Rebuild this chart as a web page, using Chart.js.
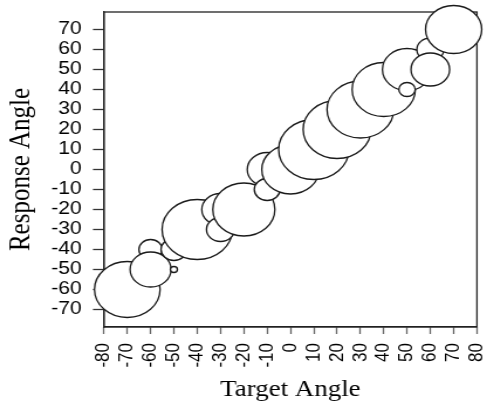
<!DOCTYPE html>
<html><head><meta charset="utf-8">
<script src="https://cdn.jsdelivr.net/npm/chart.js@4/dist/chart.umd.min.js"></script>
<style>
html,body{margin:0;padding:0;background:#fff;overflow:hidden}
#wrap{width:487px;height:406px;overflow:hidden}
canvas{transform:scaleX(1.1707);transform-origin:0 0;display:block}
</style></head><body>
<div id="wrap"><canvas id="c" width="416" height="406"></canvas></div>
<script>
// Data (drawing order: ascending target angle)
const targetAngle   = [-70, -60, -60, -50, -50, -40, -30, -30, -20, -10, -10,   0, 10, 20, 30, 40, 50, 50, 60, 60, 70];
const responseAngle = [-60, -40, -50, -40, -50, -30, -20, -30, -20,   0, -10,   0, 10, 20, 30, 40, 50, 40, 60, 50, 70];
// circle radius, in response-angle units
const circleSize    = [ 14,   5, 8.75, 5.5, 1.5,  15,   8,   6, 13.25, 8.5, 5.5, 12.25, 15, 14.5, 14.25, 13.5, 10.5, 3.5, 5.75, 8.25, 12];
const xTickValues = [-80, -70, -60, -50, -40, -30, -20, -10, 0, 10, 20, 30, 40, 50, 60, 70, 80];
const yTickValues = [-70, -60, -50, -40, -30, -20, -10, 0, 10, 20, 30, 40, 50, 60, 70];

const points = targetAngle.map((x, i) => ({x: x, y: responseAngle[i]}));

const framePlugin = {
  id: 'frame',
  beforeDatasetsDraw(chart) {
    const a = chart.chartArea, ctx = chart.ctx;
    ctx.save();
    ctx.strokeStyle = '#222';
    ctx.lineWidth = 1.3;
    ctx.strokeRect(a.left, a.top, a.right - a.left, a.bottom - a.top);
    ctx.restore();
  }
};

function radiusFor(ctx) {
  const s = ctx.chart.scales.y;
  const v = circleSize[ctx.dataIndex];
  return Math.abs(s.getPixelForValue(v) - s.getPixelForValue(0));
}

new Chart(document.getElementById('c'), {
  type: 'scatter',
  data: {
    datasets: [{
      data: points,
      backgroundColor: '#ffffff',
      borderColor: '#1a1a1a',
      borderWidth: 1.3,
      pointRadius: radiusFor,
      pointHoverRadius: radiusFor,
      clip: false
    }]
  },
  options: {
    responsive: false,
    animation: false,
    devicePixelRatio: 1,
    events: [],
    layout: { padding: { left: 0, right: 8.6, top: 12, bottom: 0 } },
    plugins: { legend: { display: false }, tooltip: { enabled: false } },
    scales: {
      x: {
        type: 'linear', min: -80, max: 80, z: 1,
        afterBuildTicks: s => { s.ticks = xTickValues.map(v => ({value: v})); },
        afterFit: s => { s.height = 79; s.paddingLeft = 0; s.paddingRight = 0; },
        ticks: {
          minRotation: 90, maxRotation: 90, autoSkip: false, padding: 9,
          color: '#000',
          font: { family: '"Liberation Sans", Arial, sans-serif', size: 17 }
        },
        grid: { display: true, drawOnChartArea: false, drawTicks: true, tickLength: 7, tickColor: '#666', tickWidth: 1.3 },
        border: { display: true, color: '#222', width: 1.3 },
        title: {
          display: true, text: 'Target Angle', color: '#000',
          font: { family: '"Liberation Serif", "Times New Roman", serif', size: 23 },
          padding: { top: 0, bottom: 2 }
        }
      },
      y: {
        type: 'linear', min: -78.75, max: 78.75, z: 1,
        afterBuildTicks: s => { s.ticks = yTickValues.map(v => ({value: v})); },
        afterFit: s => { s.width = 88.8; s.paddingTop = 0; s.paddingBottom = 0; },
        ticks: {
          padding: 9.6, color: '#000', autoSkip: false,
          font: { family: '"Liberation Sans", Arial, sans-serif', size: 18 }
        },
        grid: { display: true, drawOnChartArea: false, drawTicks: true, tickLength: 9.4, tickColor: '#333', tickWidth: 1.3 },
        border: { display: true, color: '#222', width: 1.3 },
        title: {
          display: true, text: 'Response Angle', color: '#000',
          font: { family: '"Liberation Serif", "Times New Roman", serif', size: 25 },
          padding: { top: 3, bottom: 0 }
        }
      }
    }
  },
  plugins: [framePlugin]
});
</script>
</body></html>
